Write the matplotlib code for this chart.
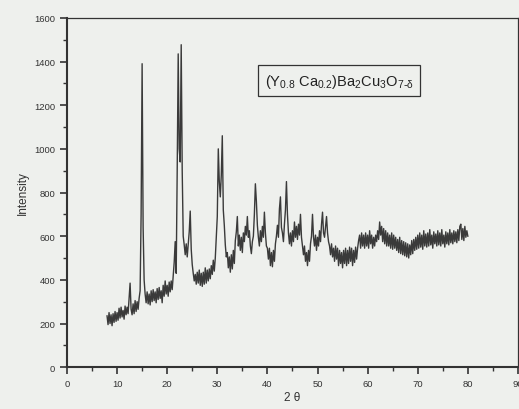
import numpy as np
import matplotlib.pyplot as plt
from matplotlib.ticker import MultipleLocator

plt.rcParams['font.family'] = ['Liberation Sans', 'DejaVu Sans']
plt.rcParams['mathtext.default'] = 'regular'

# 2-theta grid, 0.2 deg steps from 8 to 80
two_theta = np.round(np.arange(8.0, 80.01, 0.2), 1)

# intensity, 10 points per row (2 deg)
intensity = [
    235, 195, 250, 200, 240, 190, 245, 205, 255, 210,
    250, 215, 270, 225, 275, 230, 260, 220, 280, 240,
    275, 245, 315, 385, 265, 240, 290, 245, 305, 255,
    300, 265, 315, 350, 700, 1390, 640, 400, 335, 295,
    345, 290, 335, 285, 350, 300, 355, 305, 345, 295,
    360, 310, 365, 315, 350, 295, 375, 325, 395, 335,
    375, 325, 390, 345, 395, 355, 420, 480, 575, 430,
    900, 1435, 1000, 940, 1477, 900, 600, 560, 515, 565,
    505, 565, 620, 715, 540, 470, 430, 395, 425, 380,
    435, 385, 445, 375, 430, 370, 435, 380, 455, 385,
    445, 395, 450, 405, 465, 425, 490, 440, 500, 600,
    690, 1000, 850, 780, 880, 1060, 720, 650, 560, 505,
    525, 455, 505, 435, 515, 450, 535, 475, 580, 620,
    690, 555, 605, 535, 595, 525, 615, 575, 645, 605,
    690, 595, 625, 555, 520, 575, 600, 700, 840, 760,
    650, 595, 555, 625, 575, 645, 595, 710, 615, 555,
    545, 495, 545, 465, 525, 460, 535, 485, 565, 600,
    650, 595, 725, 780, 640, 615, 575, 655, 720, 850,
    700, 615, 565, 615, 555, 625, 575, 665, 595, 645,
    585, 655, 605, 700, 595, 555, 515, 555, 485, 525,
    465, 535, 485, 565, 600, 700, 595, 555, 605, 535,
    595, 555, 625, 575, 655, 710, 615, 595, 645, 690,
    615, 575, 555, 515, 565, 505, 545, 485, 555, 495,
    545, 465, 535, 475, 525, 455, 535, 475, 545, 465,
    535, 475, 550, 485, 545, 465, 535, 480, 550, 495,
    545, 580, 605, 545, 615, 555, 605, 545, 615, 555,
    605, 545, 625, 565, 605, 545, 595, 555, 605, 575,
    625, 585, 665, 605, 645, 575, 635, 565, 625, 555,
    615, 555, 605, 545, 615, 540, 605, 545, 595, 535,
    585, 525, 595, 520, 580, 515, 575, 510, 570, 505,
    565, 500, 560, 515, 580, 520, 585, 535, 595, 540,
    605, 545, 615, 550, 605, 540, 625, 555, 610, 550,
    615, 555, 630, 560, 605, 545, 620, 565, 610, 555,
    625, 560, 615, 555, 630, 565, 605, 550, 620, 565,
    615, 560, 630, 570, 615, 565, 625, 575, 620, 570,
    630, 580, 645, 655, 585, 635, 580, 645, 595, 625,
    600,
]

label = r'(Y$_{0.8}$ Ca$_{0.2}$)Ba$_2$Cu$_3$O$_{7\text{-}\delta}$'

bg = '#eef0ed'
fig = plt.figure(figsize=(5.19, 4.10), dpi=100, facecolor=bg)
ax = fig.add_axes([0.129, 0.102, 0.869, 0.852], facecolor=bg)

ax.plot(two_theta, intensity, color='#3a3a3a', lw=1.0)

ax.set_xlim(0, 90)
ax.set_ylim(0, 1600)
ax.xaxis.set_major_locator(MultipleLocator(10))
ax.xaxis.set_minor_locator(MultipleLocator(5))
ax.yaxis.set_major_locator(MultipleLocator(200))
ax.yaxis.set_minor_locator(MultipleLocator(100))
ax.tick_params(which='major', direction='out', length=5, width=1.2,
               labelsize=6.8, colors='#333333')
ax.tick_params(which='minor', direction='out', length=3, width=1.0,
               colors='#333333')

for s in ['left', 'bottom']:
    ax.spines[s].set_linewidth(1.5)
    ax.spines[s].set_color('#333333')
for s in ['top', 'right']:
    ax.spines[s].set_linewidth(0.9)
    ax.spines[s].set_color('#333333')

ax.set_xlabel('2 θ', fontsize=8.5, color='#333333', labelpad=2)
ax.set_ylabel('Intensity', fontsize=8.5, color='#333333', labelpad=4)

ax.text(54.3, 1312, label, fontsize=10.5, color='#222222', ha='center',
        va='center',
        bbox=dict(boxstyle='square,pad=0.45', fc=bg, ec='#333333', lw=0.9))

plt.savefig('out.png', dpi=100, facecolor=bg)
